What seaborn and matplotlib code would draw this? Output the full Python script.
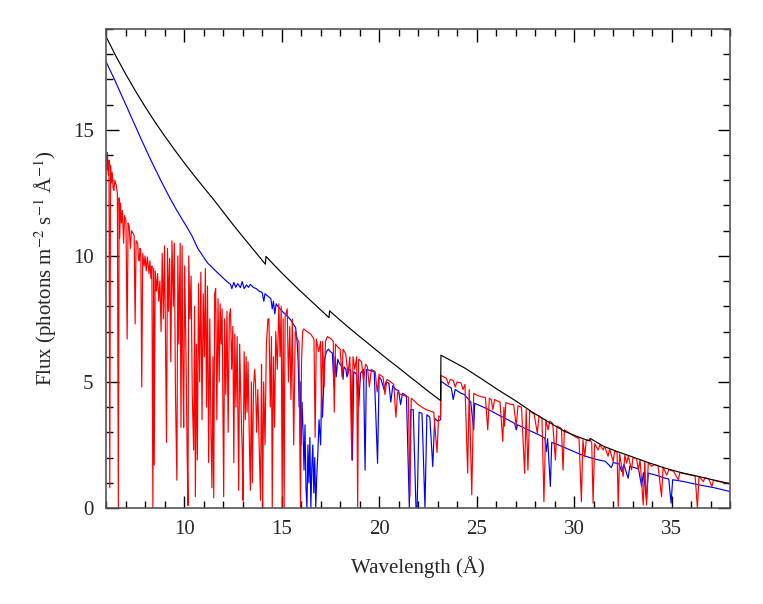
import numpy as np
import pandas as pd
import seaborn as sns
import matplotlib.pyplot as plt
from matplotlib.ticker import MultipleLocator

# continuum (black)
black_wl = [6.0, 6.5, 7.0, 7.5, 8.0, 8.5, 9.0, 9.5, 10.0, 10.5, 11.0, 11.5, 12.0, 12.5, 13.0,
            13.5, 14.0, 14.17, 14.2, 14.6, 15.0, 15.5, 15.97, 16.5, 17.0, 17.43, 17.46, 18.0,
            18.5, 19.0, 19.4, 20.0, 20.5, 21.1, 21.5, 22.0, 22.5, 23.15, 23.17, 23.8, 24.37,
            25.2, 26.09, 27.0, 27.8, 28.6, 29.5, 30.2, 30.78, 30.82, 31.5, 32.2, 32.94, 33.8,
            34.66, 35.5, 36.37, 37.2, 38.0]
black_flux = [18.7, 17.93, 17.22, 16.55, 15.92, 15.32, 14.76, 14.22, 13.7, 13.2, 12.72, 12.25,
              11.75, 11.25, 10.77, 10.3, 9.83, 9.67, 9.98, 9.65, 9.33, 8.95, 8.6, 8.22, 7.86,
              7.55, 7.82, 7.45, 7.12, 6.8, 6.55, 6.17, 5.86, 5.5, 5.25, 4.95, 4.64, 4.26, 6.06,
              5.8, 5.56, 5.15, 4.69, 4.25, 3.83, 3.45, 3.04, 2.82, 2.66, 2.76, 2.45, 2.24,
              2.04, 1.8, 1.58, 1.4, 1.25, 1.1, 0.96]

# blue model
blue_wl = [6.0, 6.4, 6.72, 7.0, 7.4, 7.8, 8.26, 8.7, 9.0, 9.29, 9.6, 9.9, 10.14, 10.4, 10.7,
           11.0, 11.2, 11.43, 11.69, 11.9, 12.1, 12.25, 12.38, 12.45, 12.55, 12.65,
           12.75, 12.89, 12.98, 13.08, 13.2, 13.3, 13.4, 13.55, 13.7, 13.85, 14.0, 14.09,
           14.15, 14.3, 14.45, 14.52, 14.58, 14.65, 14.72, 14.85, 14.95, 15.1, 15.3, 15.46,
           15.6, 15.72, 15.8, 15.85, 15.9, 15.95, 16.0, 16.05, 16.1, 16.15, 16.2, 16.25,
           16.3, 16.35, 16.4, 16.45, 16.5, 16.55, 16.6, 16.65, 16.7, 16.75, 16.8, 16.86,
           16.92, 17.0, 17.05, 17.1, 17.2, 17.3, 17.4, 17.5, 17.6, 17.69, 17.75, 17.8,
           17.88, 17.95, 18.1, 18.15, 18.2, 18.3, 18.35, 18.45, 18.55, 18.63, 18.7, 18.85,
           18.95, 19.05, 19.2, 19.28, 19.35, 19.55, 19.75, 19.92, 20.0, 20.1, 20.25, 20.35,
           20.5, 20.6, 20.7, 20.85, 21.0, 21.1, 21.2, 21.4, 21.55, 21.62, 21.75, 21.89,
           21.95, 22.05, 22.2, 22.35, 22.45, 22.6, 22.75, 22.85, 23.0, 23.15, 23.17, 23.5,
           23.7, 23.8, 23.9, 24.2, 24.37, 24.7, 24.72, 24.85, 24.9, 25.05, 25.5, 26.09,
           26.6, 26.95, 27.03, 27.1, 27.8, 28.2, 28.5, 28.57, 28.64, 28.78, 28.85, 29.2,
           29.8, 30.37, 30.8, 31.23, 31.6, 31.91, 32.0, 32.3, 32.43, 32.55, 32.77, 32.85,
           33.1, 33.3, 33.46, 33.55, 33.71, 33.8, 34.2, 34.66, 34.85, 34.97, 35.05, 35.6,
           36.37, 37.2, 38.0]
blue_flux = [17.7, 17.05, 16.5, 16.02, 15.32, 14.63, 13.86, 13.16, 12.7, 12.27, 11.84,
             11.45, 11.15, 10.8, 10.3, 9.95, 9.72, 9.55, 9.35, 9.2, 9.05, 8.95, 8.87, 8.7,
             8.95, 8.75, 8.9, 8.74, 8.98, 8.7, 8.85, 8.75, 8.87, 8.75, 8.7, 8.6, 8.55, 8.2,
             8.5, 8.4, 8.3, 7.9, 8.2, 7.7, 8.1, 7.95, 7.87, 7.75, 7.6, 7.47,
             7.3, 7.15, 6.55, 5.8, 4.0, 5.0, 2.5, 4.2, 3.0, 1.5, 3.3, 0.8,
             0.0, 2.5, 1.0, 2.8, 0.0, 1.6, 2.5, 0.6, 2.0, 0.0, 1.2, 2.2,
             3.5, 2.5, 4.5, 3.6, 5.9, 6.2, 6.3, 6.2, 6.15, 4.8, 6.0, 5.2,
             5.9, 5.75, 5.6, 5.1, 5.6, 5.5, 5.2, 5.5, 5.45, 1.9, 5.4, 5.3,
             4.0, 5.35, 5.5, 1.5, 5.5, 5.45, 5.4, 1.77, 5.2, 5.1, 4.7, 5.0,
             4.95, 4.2, 4.85, 4.7, 4.65, 4.1, 4.55, 4.45, 0.0, 3.9, 3.9, 0.0,
             0.0, 3.8, 3.75, 0.0, 3.7, 3.6, 1.64, 3.55, 3.45, 3.5, 5.03, 4.85,
             4.76, 4.3, 4.7, 4.55, 4.5, 4.2, 4.03, 3.1, 4.15, 4.1, 3.95, 3.7,
             3.5, 3.35, 3.1, 3.3, 3.04, 2.9, 2.77, 2.24, 2.75, 0.85, 2.6, 2.5,
             2.3, 2.11, 2.0, 1.91, 1.85, 1.6, 1.8, 1.75, 1.45, 1.72, 1.18, 1.65,
             1.6, 1.55, 0.85, 1.4, 0.32, 1.38, 1.3, 1.18, 1.15, 0.19, 1.12, 1.05,
             0.92, 0.8, 0.65]

# red model (absorbed)
red_wl = [6.00, 6.04, 6.07, 6.11, 6.15, 6.19, 6.23, 6.28, 6.32, 6.36, 6.40, 6.45, 6.52, 6.58,
          6.63, 6.67, 6.70, 6.74, 6.79, 6.84, 6.90, 6.95, 7.02, 7.08, 7.13, 7.18, 7.25, 7.30,
          7.38, 7.44, 7.49, 7.54, 7.62, 7.66, 7.70, 7.74, 7.78, 7.83, 7.88, 7.95, 8.00, 8.06,
          8.12, 8.20, 8.25, 8.30, 8.35, 8.40, 8.44, 8.47,
          8.52, 8.58, 8.64, 8.70, 8.76, 8.82, 8.88, 8.94, 9.00, 9.05, 9.10, 9.15, 9.20, 9.26,
          9.32, 9.38, 9.45, 9.50, 9.56, 9.63, 9.68, 9.73, 9.80, 9.84, 9.90, 9.94, 9.98, 10.03,
          10.10, 10.16, 10.20, 10.24, 10.30, 10.36, 10.42, 10.49, 10.54, 10.58, 10.63, 10.68,
          10.74, 10.80, 10.86, 10.92, 10.98, 11.04, 11.09, 11.15, 11.20, 11.26, 11.32, 11.38,
          11.43, 11.48, 11.52, 11.57, 11.62, 11.68, 11.74, 11.80, 11.85, 11.90, 11.95, 12.03,
          12.08, 12.14, 12.20, 12.26, 12.32, 12.38, 12.44, 12.50, 12.55, 12.60, 12.66, 12.72,
          12.80, 12.85, 12.92, 12.98, 13.02, 13.08, 13.14, 13.18, 13.23, 13.28, 13.35, 13.40,
          13.45, 13.50, 13.56, 13.62, 13.66, 13.72, 13.78, 13.85, 13.92, 13.97, 14.00, 14.03,
          14.08, 14.15, 14.22, 14.30, 14.35, 14.42, 14.48, 14.52, 14.58, 14.64, 14.70, 14.78,
          14.86, 14.92, 14.98, 15.03, 15.08, 15.13, 15.18, 15.29, 15.35, 15.42, 15.48, 15.55,
          15.62, 15.70, 15.80, 15.89, 15.94, 15.97, 16.02, 16.08, 16.14, 16.30, 16.49, 16.66,
          16.72, 16.78, 16.90, 17.00, 17.05, 17.10, 17.18, 17.25, 17.35, 17.45, 17.55, 17.65,
          17.70, 17.76, 17.86, 18.00, 18.10, 18.15, 18.29, 18.40, 18.50, 18.60, 18.66, 18.75,
          18.85, 18.90, 18.95, 19.10, 19.20, 19.30, 19.40, 19.50, 19.60, 19.80, 19.90, 20.00,
          20.20, 20.30, 20.40, 20.60, 20.75, 20.86, 20.95, 21.10, 21.30, 21.50, 21.58, 21.65,
          21.80, 22.00, 22.20, 22.40, 22.60, 22.80, 22.97, 23.05, 23.15, 23.17, 23.30, 23.45,
          23.55, 23.65, 23.80, 23.90, 24.00, 24.20, 24.30, 24.40, 24.54, 24.62, 24.75, 24.85,
          24.95, 25.10, 25.30, 25.45, 25.57, 25.65, 25.75, 25.83, 25.92, 26.05, 26.20, 26.34,
          26.40, 26.43, 26.50, 26.70, 26.90, 27.03, 27.12, 27.30, 27.46, 27.54, 27.63, 27.72,
          27.95, 28.11, 28.20, 28.35, 28.45, 28.55, 28.66, 28.75, 28.90, 29.04, 29.12, 29.35,
          29.43, 29.50, 29.70, 29.90, 30.10, 30.25, 30.37, 30.45, 30.54, 30.62, 30.80, 30.90,
          30.97, 31.05, 31.23, 31.32, 31.49, 31.56, 31.74, 31.82, 32.00, 32.08, 32.20, 32.26,
          32.33, 32.51, 32.60, 32.69, 32.78, 32.94, 33.02, 33.20, 33.29, 33.38, 33.54, 33.62,
          33.71, 33.80, 33.97, 34.10, 34.30, 34.48, 34.56, 34.75, 34.85, 35.10, 35.34, 35.42,
          35.70, 36.00, 36.20, 36.32, 36.40, 36.63, 36.70, 36.90, 37.06, 37.14, 37.40, 37.70,
          38.00]
red_flux = [14.0, 13.4, 14.1, 13.2, 13.8, 0.8, 13.6, 12.9, 13.3, 12.7, 12.6, 13.0, 12.8, 12.5,
            0.0, 12.3, 10.7, 12.1, 11.3, 11.8, 10.5, 11.6, 11.4, 6.7, 11.3, 11.2, 10.3, 11.0,
            10.9, 10.8, 7.3, 10.6, 10.5, 9.9, 9.8, 10.3, 10.2, 4.8, 10.1, 9.6, 10.0, 9.4,
            9.95, 9.3, 9.8, 9.1, 9.6, 0.0, 9.5, 1.7,
            9.4, 8.6, 9.3, 8.2, 9.0, 7.0, 10.1, 7.5, 10.4, 6.3, 2.6, 10.3, 7.8, 9.9,
            5.8, 10.6, 8.0, 10.5, 4.5, 1.1, 10.0, 6.5, 10.5, 3.2, 10.4, 5.5, 3.2, 9.6,
            6.0, 2.0, 0.1, 10.0, 7.5, 9.2, 4.5, 2.3, 8.0, 0.45, 6.5, 1.9,
            8.9, 5.0, 9.35, 3.5, 8.5, 6.0, 9.5, 4.0, 8.8, 1.8, 7.5, 3.0,
            0.8, 6.0, 0.4, 8.5, 8.7, 3.5, 8.3, 5.0, 8.1, 6.5, 7.9, 0.45,
            7.5, 4.5, 7.8, 3.0, 7.6, 7.9, 5.5, 7.2, 1.8, 6.9, 4.0, 6.8,
            0.7, 6.5, 4.0, 2.3, 0.3, 6.2, 3.5, 6.0, 3.8, 5.8, 2.5, 0.7,
            5.0, 1.0, 4.8, 5.5, 5.0, 3.0, 4.7, 2.5, 0.3, 5.7, 3.1, 0.0,
            5.0, 2.5, 6.5, 7.5, 7.5, 4.0, 6.8, 0.0, 6.0, 3.2, 7.0, 5.5,
            8.1, 6.0, 8.0, 0.0, 7.5, 0.0, 7.6, 7.9, 5.0, 7.2, 4.3, 7.5,
            2.5, 7.0, 6.7, 6.6, 2.0, 0.0, 5.8, 7.0, 7.1, 7.0, 6.9, 6.7,
            2.8, 6.7, 6.2, 6.6, 3.6, 6.6, 4.8, 6.6, 6.8, 6.75, 6.7, 6.6,
            3.8, 6.5, 6.4, 6.3, 5.2, 6.3, 6.1, 5.3, 6.0, 1.9, 6.0, 5.5,
            6.0, 0.0, 5.9, 5.8, 5.0, 5.7, 5.6, 4.8, 5.5, 5.4, 4.6, 5.3,
            5.2, 4.5, 5.1, 5.0, 4.9, 3.6, 4.6, 4.5, 4.45, 4.4, 0.45, 4.35,
            4.25, 4.1, 4.0, 3.9, 3.85, 3.8, 2.2, 3.65, 3.6, 5.26, 5.2, 5.15,
            4.9, 5.1, 5.05, 4.8, 5.0, 4.96, 4.7, 4.9, 1.38, 4.7, 0.52, 4.55,
            4.5, 4.45, 4.4, 4.38, 3.1, 4.35, 4.3, 3.9, 4.3, 4.25, 4.2, 2.64,
            4.0, 3.24, 4.18, 4.12, 4.1, 3.24, 4.05, 4.0, 1.38, 3.9, 1.5, 3.85,
            3.72, 2.97, 3.65, 3.55, 0.25, 3.5, 3.1, 3.45, 3.35, 1.9, 3.25, 3.15,
            1.5, 3.1, 3.0, 2.9, 2.8, 2.75, 0.25, 2.7, 2.04, 2.68, 2.7, 2.6,
            0.19, 2.55, 2.3, 2.5, 2.3, 2.45, 2.05, 2.35, 1.84, 2.28, 2.2, 0.06,
            2.15, 1.25, 2.1, 1.78, 2.05, 1.51, 2.0, 1.95, 1.51, 1.9, 0.12, 1.85,
            0.12, 1.8, 1.65, 1.72, 1.68, 0.45, 1.62, 1.3, 1.52, 1.45, 1.12, 1.4,
            1.35, 1.3, 1.27, 0.0, 1.24, 1.05, 1.2, 1.15, 0.85, 1.1, 1.05, 1.0,
            0.96]

spec = pd.concat([
    pd.DataFrame({'wl': blue_wl, 'flux': blue_flux, 'model': 'blue'}),
    pd.DataFrame({'wl': red_wl, 'flux': red_flux, 'model': 'red'}),
    pd.DataFrame({'wl': black_wl, 'flux': black_flux, 'model': 'black'}),
], ignore_index=True)

sns.set_style("ticks")
plt.rcParams['font.family'] = ['Liberation Serif', 'DejaVu Serif']
plt.rcParams['mathtext.fontset'] = 'stix'

fig = plt.figure(figsize=(7.63, 6.04), dpi=100)
ax = fig.add_axes([0.139, 0.159, 0.818, 0.793])

sns.lineplot(data=spec, x='wl', y='flux', hue='model',
             palette={'blue': '#0000ff', 'red': '#ff0000', 'black': '#000000'},
             estimator=None, sort=False, legend=False, linewidth=0.85, ax=ax)

ax.set_xlim(6, 38)
ax.set_ylim(0, 19)
ax.xaxis.set_major_locator(MultipleLocator(5))
ax.xaxis.set_minor_locator(MultipleLocator(1))
ax.yaxis.set_major_locator(MultipleLocator(5))
ax.yaxis.set_minor_locator(MultipleLocator(1))
ax.tick_params(which='both', direction='in', top=True, right=True, labelsize=15, color='black')
ax.tick_params(which='major', length=9, width=1, pad=9)
ax.tick_params(which='minor', length=5, width=1)
for s in ax.spines.values():
    s.set_color('#555555')
    s.set_linewidth(1.2)

ax.set_xlabel('Wavelength (Å)', fontsize=15, labelpad=12)
ax.set_ylabel('Flux (photons m$^{-2}$ s$^{-1}$ Å$^{-1}$)', fontsize=15, labelpad=10)

fig.savefig('out.png', dpi=100)
